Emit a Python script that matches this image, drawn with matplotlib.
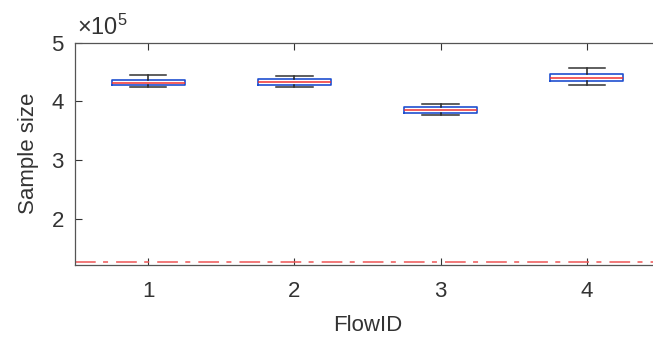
import matplotlib
matplotlib.use("Agg")
import matplotlib.pyplot as plt

plt.rcParams['font.family'] = ['Liberation Sans', 'DejaVu Sans']
plt.rcParams['mathtext.fontset'] = 'custom'
plt.rcParams['mathtext.rm'] = 'Liberation Sans'
plt.rcParams['lines.scale_dashes'] = False

# box statistics per flow
flow_ids = [1, 2, 3, 4]
q1 = [427700, 427700, 381000, 435300]
med = [431900, 433200, 386100, 440400]
q3 = [437000, 438700, 390800, 446600]
whisk_lo = [424300, 425000, 376400, 427700]
whisk_hi = [445500, 443800, 395900, 456300]
min_sample = 127300

tick_vals = [200000, 300000, 400000, 500000]
tick_labels = ['2', '3', '4', '5']

txt = '#333333'

fig = plt.figure(figsize=(6.53, 3.47), dpi=100)
ax = fig.add_axes([75/653, 1 - 264.5/347, 585/653, (264.5 - 42.5)/347])

stats = []
for i in range(len(flow_ids)):
    stats.append({'med': med[i], 'q1': q1[i], 'q3': q3[i],
                  'whislo': whisk_lo[i], 'whishi': whisk_hi[i], 'fliers': []})

ax.bxp(stats, positions=flow_ids, widths=0.5, capwidths=0.25,
       showfliers=False,
       boxprops=dict(color='#1f4fd0', lw=1.2),
       medianprops=dict(color='#f03030', lw=1.1),
       whiskerprops=dict(color='#222222', lw=1.1),
       capprops=dict(color='#333333', lw=1.1))

ax.axhline(min_sample, color='#ee5555', lw=1.1, dashes=(14.9, 5.3, 3.6, 5.8))

ax.set_xlim(0.5, 4.5)
ax.set_ylim(122800, 500000)
ax.set_xticks(flow_ids)
ax.set_xticklabels([str(f) for f in flow_ids])
ax.set_yticks(tick_vals)
ax.set_yticklabels(tick_labels)

ax.tick_params(direction='in', length=4.8, width=0.8, colors=txt,
               labelsize=16, top=True, right=True)
ax.tick_params(axis='x', pad=12)
ax.tick_params(axis='y', pad=8)
for s in ax.spines.values():
    s.set_color('#555555')
    s.set_linewidth(0.9)

ax.set_xlabel('FlowID', fontsize=16, color=txt, labelpad=9)
ax.set_ylabel('Sample size', fontsize=16, color=txt, labelpad=9)
ax.text(0.004, 1.01, r'$\times\mathregular{10^5}$', transform=ax.transAxes,
        fontsize=17, color=txt, ha='left', va='bottom')

fig.savefig('out.png', dpi=100)
